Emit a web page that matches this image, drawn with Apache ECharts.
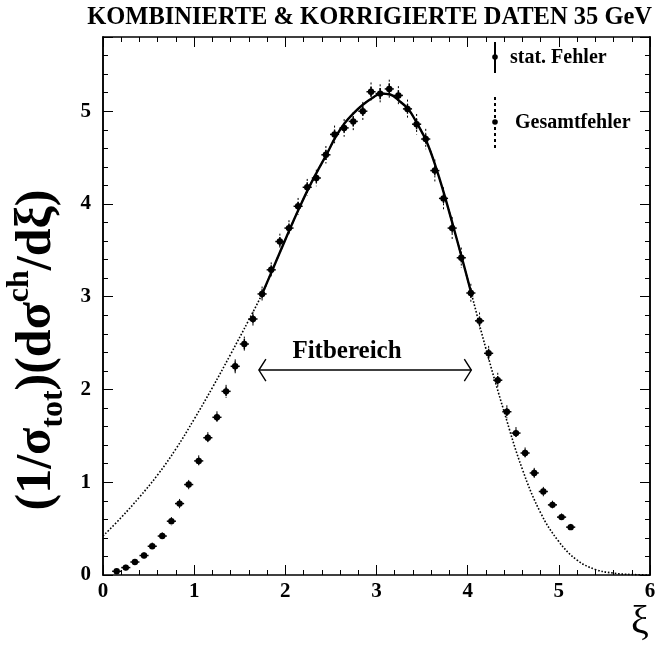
<!DOCTYPE html>
<html><head><meta charset="utf-8">
<script src="https://cdn.jsdelivr.net/npm/echarts@6/dist/echarts.min.js"></script>
<style>html,body{margin:0;padding:0;background:#fff}#c{width:659px;height:645px}</style>
</head><body><div id="c"></div>
<script>
// ---- data ----
const xi = [0.15,0.25,0.35,0.45,0.54,0.65,0.75,0.84,0.94,1.05,
            1.15,1.25,1.35,1.45,1.55,1.645,1.745,1.845,1.94,2.04,
            2.14,2.24,2.34,2.445,2.54,2.645,2.745,2.85,2.94,3.04,
            3.14,3.24,3.34,3.44,3.54,3.64,3.735,3.83,3.93,4.035,
            4.13,4.23,4.33,4.43,4.53,4.63,4.73,4.83,4.93,5.03,5.13];
const vals = [0.04,0.08,0.14,0.21,0.31,0.42,0.58,0.77,0.975,1.23,
              1.48,1.70,1.98,2.25,2.49,2.76,3.03,3.29,3.595,3.74,
              3.975,4.18,4.28,4.53,4.75,4.82,4.89,5.00,5.21,5.19,
              5.24,5.17,5.025,4.86,4.70,4.36,4.06,3.74,3.42,3.04,
              2.74,2.39,2.10,1.76,1.53,1.315,1.10,0.90,0.756,0.624,0.516];
const statErr = [0.015,0.02,0.02,0.025,0.025,0.03,0.03,0.035,0.035,0.04,
                 0.04,0.045,0.05,0.055,0.055,0.05,0.05,0.05,0.05,0.05,
                 0.05,0.055,0.05,0.055,0.05,0.05,0.055,0.05,0.055,0.06,
                 0.06,0.055,0.05,0.055,0.05,0.05,0.05,0.05,0.05,0.05,
                 0.045,0.05,0.045,0.045,0.04,0.04,0.04,0.035,0.035,0.03,0.03];
const totErr = [0.02,0.03,0.03,0.035,0.04,0.04,0.045,0.05,0.05,0.06,
                0.06,0.065,0.07,0.075,0.08,0.08,0.08,0.08,0.085,0.085,
                0.09,0.09,0.09,0.095,0.095,0.095,0.10,0.10,0.10,0.10,
                0.10,0.10,0.10,0.11,0.11,0.12,0.12,0.12,0.11,0.10,
                0.09,0.08,0.08,0.07,0.065,0.06,0.055,0.05,0.045,0.04,0.035];
const binHalf = 0.05;

// fitted curve (solid part, inside the fit range)
const fitXi  = [1.75,1.85,1.95,2.05,2.15,2.25,2.35,2.45,2.55,2.65,2.75,2.85,2.95,3.05,
                3.15,3.25,3.35,3.45,3.55,3.65,3.75,3.85,3.95,4.05];
const fitVal = [3.04,3.27,3.50,3.73,3.95,4.16,4.35,4.53,4.72,4.87,4.98,5.07,5.14,5.19,
                5.18,5.11,5.02,4.86,4.67,4.40,4.08,3.73,3.37,3.00];
// extrapolation of the curve (dotted)
const leftXi  = [0,0.2,0.4,0.6,0.8,1.0,1.2,1.4,1.6];
const leftVal = [0.42,0.62,0.84,1.08,1.36,1.68,2.02,2.38,2.75];
const rightXi  = [4.2,4.4,4.6,4.8,5.0,5.2,5.4,5.6,5.8,6.0];
const rightVal = [2.44,1.76,1.14,0.67,0.36,0.16,0.06,0.02,0.005,0.0];

const xTickLabels = ['0','1','2','3','4','5','6'];
const yTickLabels = ['0','1','2','3','4','5'];
const fitRange = [1.71, 4.04];
const fitArrowLevel = 2.21;

const titleText = 'KOMBINIERTE & KORRIGIERTE DATEN 35 GeV';
const FONT = '"Liberation Serif", "Times New Roman", serif';

// ---- chart ----
const chart = echarts.init(document.getElementById('c'), null, {renderer: 'canvas'});
const pts = xi.map((x, i) => [x, vals[i], statErr[i], totErr[i]]);
const curveAll = leftXi.map((x,i)=>[x,leftVal[i]])
  .concat(fitXi.map((x,i)=>[x,fitVal[i]]))
  .concat(rightXi.map((x,i)=>[x,rightVal[i]]));
const fitCurve = fitXi.map((x,i)=>[x,fitVal[i]]);

const axisLine = {show: true, onZero: false, lineStyle: {color: '#000', width: 1.5}};
const labelStyle = {color: '#000', fontFamily: FONT, fontWeight: 'bold', fontSize: 21};

function yAx(pos, interval, len, showLabel) {
  return {
    type: 'value', position: pos, min: 0, max: 5.8, interval: interval,
    axisLine: axisLine,
    axisTick: {show: true, inside: true, length: len, lineStyle: {color: '#000', width: 1}},
    axisLabel: showLabel ? Object.assign({
      margin: 12,
      formatter: v => { const k = Math.round(v); return Math.abs(v - k) < 1e-6 && k < yTickLabels.length ? yTickLabels[k] : ''; }
    }, labelStyle) : {show: false},
    splitLine: {show: false}
  };
}
function xAx(pos, showLabel) {
  return {
    type: 'value', position: pos, min: 0, max: 6, interval: 1,
    axisLine: axisLine,
    axisTick: {show: true, inside: true, length: 10, lineStyle: {color: '#000', width: 1}},
    minorTick: {show: true, splitNumber: 5, length: 5, lineStyle: {color: '#000', width: 1}},
    axisLabel: showLabel ? Object.assign({
      margin: 6,
      formatter: v => { const k = Math.round(v); return xTickLabels[k] || ''; }
    }, labelStyle) : {show: false},
    splitLine: {show: false}
  };
}

function renderPoint(params, api) {
  const x = api.value(0), y = api.value(1), s = api.value(2), t = api.value(3);
  const c = api.coord([x, y]);
  const l = api.coord([x - binHalf, y]), r = api.coord([x + binHalf, y]);
  const st = api.coord([x, y + s]), sb = api.coord([x, y - s]);
  const tt = api.coord([x, y + t]), tb = api.coord([x, y - t]);
  return {type: 'group', children: [
    {type: 'line', shape: {x1: tt[0], y1: tt[1], x2: tb[0], y2: tb[1]}, style: {stroke: '#000', lineWidth: 1, lineDash: [2, 2]}},
    {type: 'line', shape: {x1: l[0], y1: l[1], x2: r[0], y2: r[1]}, style: {stroke: '#000', lineWidth: 1.5}},
    {type: 'line', shape: {x1: st[0], y1: st[1], x2: sb[0], y2: sb[1]}, style: {stroke: '#000', lineWidth: 1.5}},
    {type: 'circle', shape: {cx: c[0], cy: c[1], r: 3.2}, style: {fill: '#000'}}
  ]};
}

chart.setOption({
  animation: false,
  backgroundColor: '#fff',
  title: {
    text: titleText, right: 2, top: 0,
    textStyle: {fontFamily: FONT, fontWeight: 'bold', fontSize: 24.5, color: '#000'}
  },
  grid: {left: 103, right: 9, top: 37, bottom: 70, containLabel: false},
  xAxis: [xAx('bottom', true), xAx('top', false)],
  yAxis: [yAx('left', 1, 10, true), yAx('left', 0.2, 5, false),
          yAx('right', 1, 10, false), yAx('right', 0.2, 5, false)],
  series: [
    {type: 'line', data: curveAll, smooth: 0.4, symbol: 'none', z: 2,
     lineStyle: {color: '#000', width: 1.6, type: [1.6, 1.8]}},
    {type: 'line', data: fitCurve, smooth: 0.4, symbol: 'none', z: 3,
     lineStyle: {color: '#000', width: 2.4}},
    {type: 'custom', data: pts, renderItem: renderPoint, z: 4, clip: true,
     encode: {x: 0, y: 1}}
  ]
});

// annotations (legend, axis titles, fit-range arrow)
const a = chart.convertToPixel({xAxisIndex: 0, yAxisIndex: 0}, [fitRange[0], fitArrowLevel]);
const b = chart.convertToPixel({xAxisIndex: 0, yAxisIndex: 0}, [fitRange[1], fitArrowLevel]);
const ls = {stroke: '#000', lineWidth: 1.4, fill: null};
chart.setOption({
  graphic: [
    // fit range arrow
    {type: 'line', shape: {x1: a[0], y1: a[1], x2: b[0], y2: b[1]}, style: ls},
    {type: 'polyline', shape: {points: [[a[0] + 7, a[1] - 11], [a[0], a[1]], [a[0] + 7, a[1] + 11]]}, style: ls},
    {type: 'polyline', shape: {points: [[b[0] - 7, b[1] - 11], [b[0], b[1]], [b[0] - 7, b[1] + 11]]}, style: ls},
    {type: 'text', x: 347, y: 352,
     style: {text: 'Fitbereich', font: 'bold 25px ' + FONT, fill: '#000', align: 'center', verticalAlign: 'middle'}},
    // legend
    {type: 'line', shape: {x1: 495, y1: 42, x2: 495, y2: 73}, style: {stroke: '#000', lineWidth: 2}},
    {type: 'circle', shape: {cx: 495, cy: 57, r: 2.8}, style: {fill: '#000'}},
    {type: 'text', x: 510, y: 58, style: {text: 'stat. Fehler', font: 'bold 20px ' + FONT, fill: '#000', verticalAlign: 'middle'}},
    {type: 'line', shape: {x1: 495, y1: 97, x2: 495, y2: 150}, style: {stroke: '#000', lineWidth: 2, lineDash: [3, 3]}},
    {type: 'circle', shape: {cx: 495, cy: 122, r: 2.8}, style: {fill: '#000'}},
    {type: 'text', x: 515, y: 123, style: {text: 'Gesamtfehler', font: 'bold 20px ' + FONT, fill: '#000', verticalAlign: 'middle'}},
    // axis titles
    {type: 'text', x: 640, y: 622, style: {text: 'ξ', font: '40px ' + FONT, fill: '#000', align: 'center', verticalAlign: 'middle'}},
    {type: 'text', x: 37, y: 350, rotation: Math.PI / 2,
     style: {
       text: '(1/σ{sub|tot})(dσ{sup|ch}/dξ)',
       font: 'bold 50px ' + FONT, fill: '#000', align: 'center', verticalAlign: 'middle',
       lineHeight: 66,
       rich: {
         sub: {font: 'bold 32px ' + FONT, fill: '#000', verticalAlign: 'bottom', lineHeight: 66},
         sup: {font: 'bold 32px ' + FONT, fill: '#000', verticalAlign: 'top', lineHeight: 66}
       }
     }}
  ]
});
</script>
</body></html>
